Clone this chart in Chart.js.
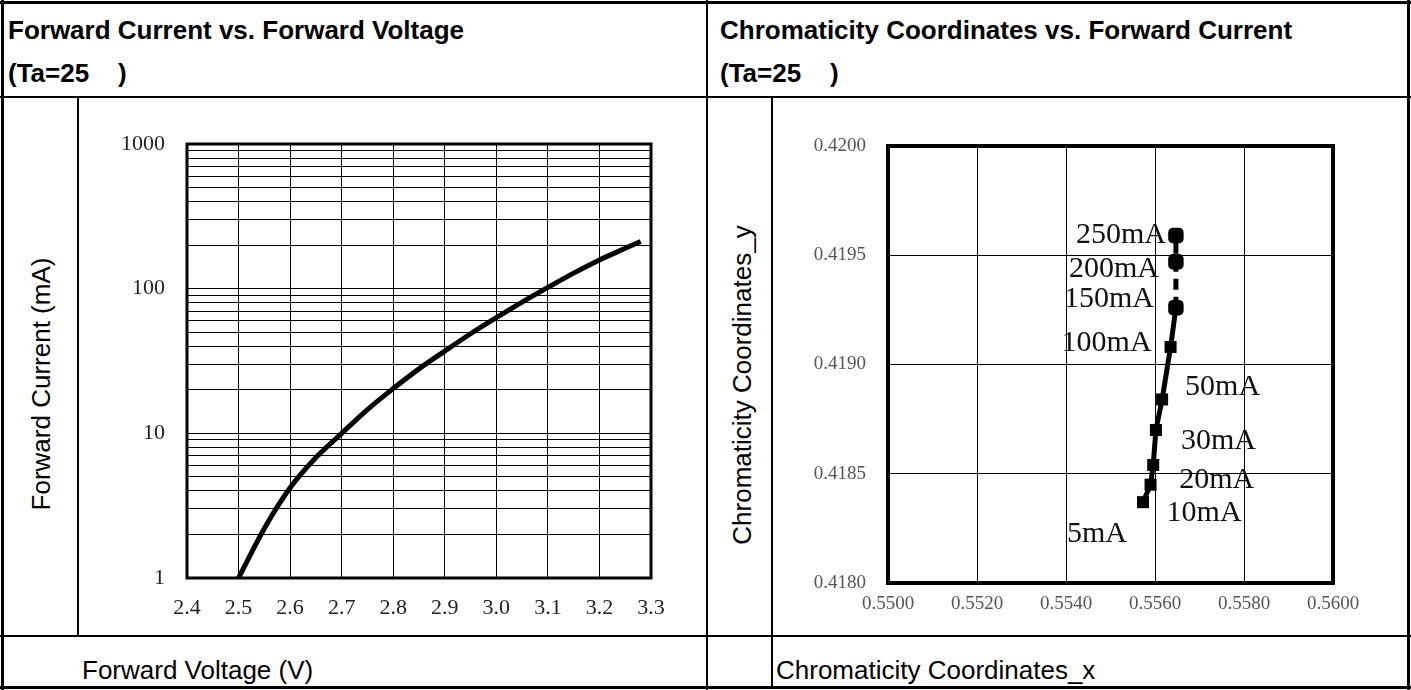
<!DOCTYPE html>
<html lang="en">
<head>
<meta charset="UTF-8">
<title>LED characteristics</title>
<script src="https://cdnjs.cloudflare.com/ajax/libs/Chart.js/4.4.1/chart.umd.min.js"></script>
<style>
  html, body { margin: 0; padding: 0; background: #fff; }
  body { width: 1411px; height: 690px; position: relative; overflow: hidden; font-family: "Liberation Sans", Arial, sans-serif; color: #000; }
  .ln { position: absolute; background: #000; }
  .txt { position: absolute; white-space: pre; font-size: 26px; line-height: 30px; }
  .bold { font-weight: bold; }
  .rot { position: absolute; white-space: pre; font-size: 26px; line-height: 30px; transform: translate(-50%, -50%) rotate(-90deg); }
  canvas { position: absolute; }
</style>
</head>
<body>
  <!-- table frame -->
  <div class="ln" style="left:0;top:1px;width:1411px;height:3px"></div>
  <div class="ln" style="left:0;top:686px;width:1411px;height:3px"></div>
  <div class="ln" style="left:1px;top:0;width:3px;height:690px"></div>
  <div class="ln" style="left:1407px;top:0;width:3px;height:690px"></div>
  <div class="ln" style="left:0;top:96px;width:1411px;height:2px"></div>
  <div class="ln" style="left:0;top:635px;width:1411px;height:2px"></div>
  <div class="ln" style="left:706px;top:0;width:2px;height:690px"></div>
  <div class="ln" style="left:77px;top:97px;width:2px;height:539px"></div>
  <div class="ln" style="left:771px;top:97px;width:2px;height:592px"></div>

  <div class="txt bold" style="left:8px;top:15px">Forward Current vs. Forward Voltage</div>
  <div class="txt bold" style="left:8px;top:58px">(Ta=25    )</div>
  <div class="txt bold" style="left:720px;top:15px">Chromaticity Coordinates vs. Forward Current</div>
  <div class="txt bold" style="left:720px;top:58px">(Ta=25    )</div>

  <div class="rot" style="left:41px;top:384px">Forward Current (mA)</div>
  <div class="rot" style="left:742px;top:385px">Chromaticity Coordinates_y</div>
  <div class="txt" style="left:82px;top:655px">Forward Voltage (V)</div>
  <div class="txt" style="left:776px;top:655px">Chromaticity Coordinates_x</div>

  <canvas id="ivChart" width="625" height="535" style="left:80px;top:100px"></canvas>
  <canvas id="ccChart" width="630" height="535" style="left:775px;top:100px"></canvas>

<script>
// forward current vs forward voltage
const fvVoltage = [2.50, 2.55, 2.60, 2.65, 2.70, 2.75, 2.80, 2.85, 2.90, 2.95, 3.00, 3.05, 3.10, 3.15, 3.20, 3.25, 3.28];
const fvCurrent = [1.0, 2.2, 4.2, 6.8, 10, 14.6, 20.4, 27.9, 37, 48.8, 63, 80.7, 102, 128, 158, 190, 212];
const ivXTicks = [2.4, 2.5, 2.6, 2.7, 2.8, 2.9, 3.0, 3.1, 3.2, 3.3];
const ivYTicks = [1, 2, 3, 4, 5, 6, 7, 8, 9,
                  10, 20, 30, 40, 50, 60, 70, 80, 90,
                  100, 200, 300, 400, 500, 600, 700, 800, 900, 1000];
const ivYLabels = [1, 10, 100, 1000];

// chromaticity coordinates vs forward current
const ccCurrent = ['5mA', '10mA', '20mA', '30mA', '50mA', '100mA', '150mA', '200mA', '250mA'];
const ccX = [0.55573, 0.55590, 0.55596, 0.55602, 0.55616, 0.55635, 0.55647, 0.55647, 0.55647];
const ccY = [0.41837, 0.41845, 0.41854, 0.41870, 0.41884, 0.41908, 0.41926, 0.41947, 0.41959];
const ccXTicks = [0.5500, 0.5520, 0.5540, 0.5560, 0.5580, 0.5600];
const ccYTicks = [0.4180, 0.4185, 0.4190, 0.4195, 0.4200];

Chart.defaults.font.family = '"Liberation Serif", "Times New Roman", serif';
Chart.defaults.color = '#222';

// thick box round the plot area
const frame = {
  id: 'frame',
  beforeDatasetsDraw(chart, args, opts) {
    const {ctx, chartArea: a} = chart;
    ctx.save();
    ctx.strokeStyle = '#000';
    ctx.lineWidth = opts.width || 3;
    ctx.strokeRect(a.left, a.top, a.right - a.left, a.bottom - a.top);
    ctx.restore();
  }
};

function fixedTicks(list) {
  return scale => { scale.ticks = list.map(v => ({value: v})); };
}

new Chart(document.getElementById('ivChart'), {
  type: 'line',
  data: {
    datasets: [{
      data: fvVoltage.map((v, i) => ({x: v, y: fvCurrent[i]})),
      borderColor: '#000',
      borderWidth: 5,
      pointRadius: 0,
      cubicInterpolationMode: 'monotone',
      fill: false
    }]
  },
  plugins: [frame],
  options: {
    responsive: false,
    animation: false,
    layout: {padding: {top: 44, right: 54, left: 0, bottom: 0}},
    plugins: {legend: {display: false}, tooltip: {enabled: false}, frame: {width: 3}},
    scales: {
      x: {
        type: 'linear', min: 2.4, max: 3.3,
        afterBuildTicks: fixedTicks(ivXTicks),
        afterFit: s => { s.height = 57; },
        border: {display: false},
        grid: {color: '#000', lineWidth: 1, drawTicks: false},
        ticks: {padding: 17, color: '#222', font: {size: 22}, autoSkip: false, maxRotation: 0,
                callback: v => v.toFixed(1)}
      },
      y: {
        type: 'logarithmic', min: 1, max: 1000,
        afterBuildTicks: fixedTicks(ivYTicks),
        afterFit: s => { s.width = 107; },
        border: {display: false},
        grid: {color: '#000', lineWidth: 1, drawTicks: false},
        ticks: {padding: 22, color: '#222', font: {size: 22}, autoSkip: false,
                callback: v => ivYLabels.includes(v) ? String(v) : ''}
      }
    }
  }
});

// where each current label sits next to its point
const ccLabelPos = [
  {dx: -16, dy: 32, align: 'right'},
  {dx: 16, dy: 28, align: 'left'},
  {dx: 26, dy: 15, align: 'left'},
  {dx: 25, dy: 11, align: 'left'},
  {dx: 23, dy: -12, align: 'left'},
  {dx: -19, dy: -4, align: 'right'},
  {dx: -22, dy: -9, align: 'right'},
  {dx: -17, dy: 7, align: 'right'},
  {dx: -10, dy: 0, align: 'right'}
];

const pointLabels = {
  id: 'pointLabels',
  afterDatasetsDraw(chart) {
    const {ctx} = chart;
    const pts = chart.getDatasetMeta(0).data;
    ctx.save();
    ctx.font = '30px "Liberation Serif", "Times New Roman", serif';
    ctx.fillStyle = '#111';
    ctx.textBaseline = 'middle';
    pts.forEach((p, i) => {
      const pos = ccLabelPos[i];
      ctx.textAlign = pos.align;
      ctx.fillText(ccCurrent[i], p.x + pos.dx, p.y + pos.dy);
    });
    ctx.restore();
  }
};

new Chart(document.getElementById('ccChart'), {
  type: 'line',
  data: {
    labels: ccCurrent,
    datasets: [{
      data: ccX.map((v, i) => ({x: v, y: ccY[i]})),
      borderColor: '#000',
      backgroundColor: '#000',
      borderWidth: 5,
      pointStyle: ccCurrent.map((c, i) => i >= 6 ? 'rectRounded' : 'rect'),
      pointRadius: ccCurrent.map((c, i) => i >= 6 ? 9 : 8.5),
      pointBorderWidth: 0,
      segment: {borderDash: c => c.p0DataIndex >= 6 ? [11, 7] : undefined},
      fill: false
    }]
  },
  plugins: [frame, pointLabels],
  options: {
    responsive: false,
    animation: false,
    layout: {padding: {top: 46, right: 72, left: 0, bottom: 0}},
    plugins: {legend: {display: false}, tooltip: {enabled: false}, frame: {width: 4}},
    scales: {
      x: {
        type: 'linear', min: 0.55, max: 0.56,
        afterBuildTicks: fixedTicks(ccXTicks),
        afterFit: s => { s.height = 52; },
        border: {display: false},
        grid: {color: '#000', lineWidth: 1, drawTicks: false},
        ticks: {padding: 10, color: '#555', font: {size: 19}, autoSkip: false, maxRotation: 0,
                callback: v => v.toFixed(4)}
      },
      y: {
        type: 'linear', min: 0.418, max: 0.42,
        afterBuildTicks: fixedTicks(ccYTicks),
        afterFit: s => { s.width = 113; },
        border: {display: false},
        grid: {color: '#000', lineWidth: 1, drawTicks: false},
        ticks: {padding: 22, color: '#555', font: {size: 19}, autoSkip: false,
                callback: v => v.toFixed(4)}
      }
    }
  }
});
</script>
</body>
</html>
